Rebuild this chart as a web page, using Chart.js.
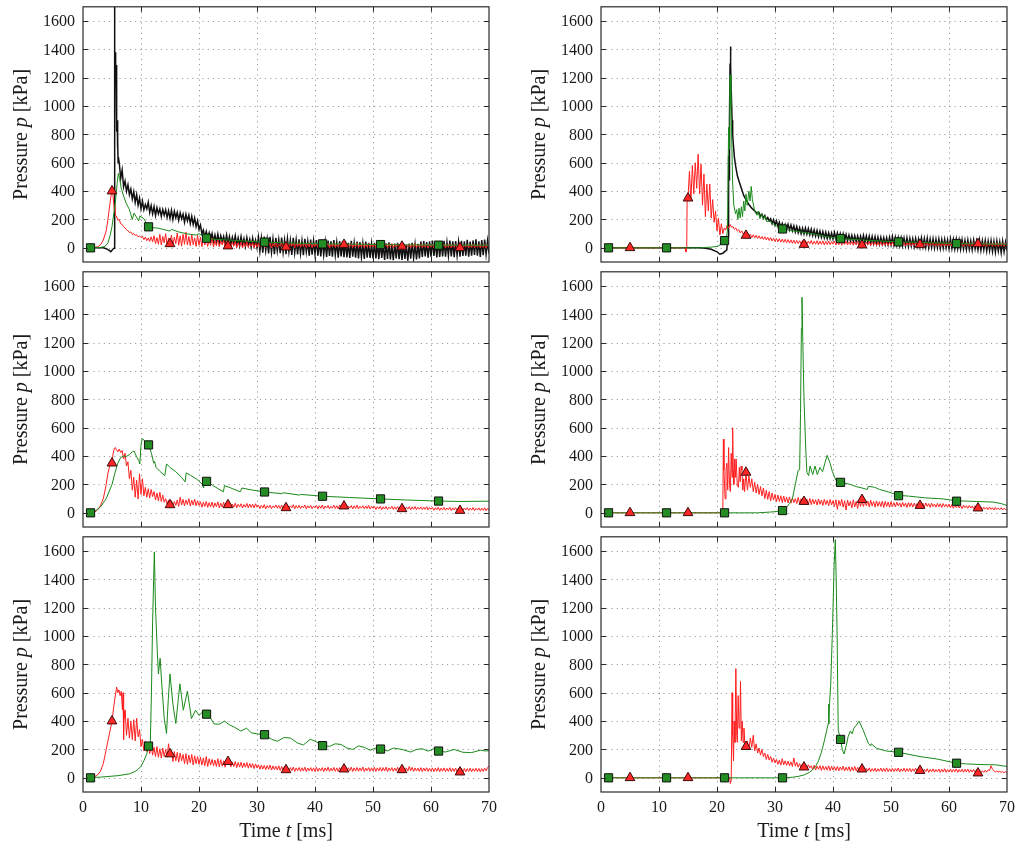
<!DOCTYPE html>
<html>
<head>
<meta charset="utf-8">
<title>Pressure histories</title>
<script src="https://cdn.jsdelivr.net/npm/chart.js@4.4.1/dist/chart.umd.min.js"></script>
<style>
  body { margin: 0; background: #fff; }
  #wrap { position: relative; width: 1020px; height: 850px; overflow: hidden; }
  canvas { position: absolute; }
</style>
</head>
<body>
<div id="wrap"></div>
<script>
// axes
const xTicks = [0, 10, 20, 30, 40, 50, 60, 70];
const yTicks = [0, 200, 400, 600, 800, 1000, 1200, 1400, 1600];

// marker times (squares on the green trace, triangles on the red trace)
const sqTimes = [1.3, 11.3, 21.3, 31.3, 41.3, 51.3, 61.3];
const triTimes = [5, 15, 25, 35, 45, 55, 65];

// ---- top left ----
const tlBlackHead = [[1,0],[3.5,0],[4,-6],[4.5,-18],[4.8,-27],[5.1,-12],[5.35,-3],[5.42,1800],[5.5,1330],[5.55,1250],[5.6,1380],[5.65,1150],[5.7,1290],[5.75,980],[5.8,1100],[5.85,820],[5.9,900],[5.95,700],[6.0,760],[6.05,600],[6.1,640]];
// sampled every 0.25 ms from 6.25 ms
const tlBlackNoise = [600,490,550,430, 470,400,445,375,
  415,345,395,320,375,300,350,275, 330,268,305,275,322,250,298,240,
  290,228,282,240,275,222,270,230,268,215,262,208,
  265,200,258,212,250,195,246,205,238,180,236,190,
  230,170,222,165,210,150, 190,130,160,100,125,75, 115,70,105,55,
  100,45,90,40,95,35,85,45,80,30,90,28,
  80,25,75,30,85,20,70,15,78,22,65,10,72,18,60,5,68,12,55,0,
  75,-25,68,-35,80,-20,60,-40,78,-30,62,-45,70,-22,58,-38,72,-32,55,-45,
  65,-28,52,-50,70,-35,55,-46,60,-40,50,-52,64,-30,45,-55,58,-48,50,-44,
  55,-55,48,-60,58,-50,42,-65,52,-58,45,-62,55,-52,38,-70,48,-60,42,-66,
  46,-68,35,-72,50,-62,34,-70,44,-75,40,-66,30,-78,45,-70,36,-72,28,-75,
  35,-75,30,-80,40,-72,25,-85,32,-78,38,-82,22,-88,30,-75,35,-80,26,-85,
  32,-78,20,-90,30,-76,36,-72,24,-82,28,-74,
  45,-65,48,-60,40,-70,46,-62,52,-58,40,-68,48,-64,44,-60,50,-62,38,-56,
  52,-60,45,-66,48,-55,42,-62,
  50,-58,46,-55,56,-62,44,-56,52,-50,60,-56,46,-64,54,-52,58,-46,50,-40];
const tlRedHead = [[1,0],[2,3],[2.5,8],[3,20],[3.5,55],[4,120],[4.3,200],[4.6,300],[4.9,385],[5.1,410],[5.25,330],[5.4,262],[5.5,290],[5.6,230]];
// sampled every 0.25 ms from 5.75 ms
const tlRedNoise = [225,195,200,170,165,150,140,128,
  120,108,112,95,100,88,92,78,84,72, 82,58,76,50,70,45,78,42,
  85,30,72,25,95,20,80,35,100,15,70,28, 90,20,75,30,105,18,85,12,95,25,110,20,
  80,15,95,22,70,10,88,18,75,8,65,20, 60,10,55,18,70,5,50,15,62,8,48,20,55,2,45,12,
  42,5,38,12,45,0,35,10,40,-2,36,8,44,3,32,10,38,0,34,6,
  35,5,30,10,38,2,28,12,33,0,30,8,36,4,26,10,34,-2,30,6,
  35,5,28,12,32,0,30,8,37,3,25,10,33,2,29,7,36,0,27,9,
  30,2,28,8,34,0,26,10,32,-3,28,6,33,2,25,8,30,0,27,5,
  32,3,26,9,30,-1,28,6,34,2,24,8,31,0,27,5,30,3,25,7,
  28,0,25,6,30,-2,24,8,29,0,26,5,31,1,22,7,28,-1,25,4,
  29,2,23,8,27,-2,26,5,30,0,22,6,28,1,24,4,27,-1,23,6,
  26,-2,22,5,28,-4,21,6,25,-1,23,3,27,0,20,5,24,-3,22,2,
  26,0,19,6,24,-2,23,3,27,-1,20,4,25,0,21,3,24,-2,22,5];
const tlGreen = [[1,0],[3,2],[3.8,10],[4.3,35],[4.7,90],[5,150],[5.3,240],[5.6,330],[5.9,460],[6.1,525],[6.3,490],[6.6,420],[7,365],[7.5,310],[8,270],[8.5,200],[8.8,245],[9.6,190],[9.8,225],[10.5,205],[11.3,148],[12,143],[13,138],[14,128],[15,118],[15.3,130],[16.5,112],[18,98],[19.5,90],[20,100],[21.3,68],[22,62],[25,55],[28,48],[31.3,40],[35,35],[41.3,28],[46,26],[51.3,23],[56,21],[61.3,19],[66,19],[70,18]];
const tlSq = [0, 148, 68, 40, 28, 23, 19];
const tlTri = [400, 28, 12, 5, 23, 10, 0];

// ---- top right ----
const trBlackHead = [[1,0],[17,0],[18,-3],[19,-10],[20,-28],[20.5,-45],[21,-38],[21.5,-22],[21.7,-15],[21.8,60],[21.95,80],[22,650],[22.1,480],[22.15,900],[22.25,1300],[22.3,1420],[22.35,1200],[22.4,1280],[22.5,1050],[22.6,900],[22.7,800],[22.8,740],[23,640],[23.2,580],[23.5,510],[23.8,470],[24.2,420],[24.6,370],[25,340],[25.5,305],[26,280],[26.5,260],[27,240]];
// sampled every 0.25 ms from 27.25 ms
const trBlackNoise = [248,222,236,210,228,198,214,190,
  205,170,198,160,190,152,180,142,172,135,165,130,
  166,126,160,120,155,112,150,106,142,100,138,98,
  140,96,135,92,132,86,126,82,122,78,118,74,114,70,110,66,106,64,104,62,
  108,62,104,60,100,56,98,52,94,50,90,48,88,44,86,42,84,40,82,40,
  88,38,84,36,82,32,80,30,78,28,76,26,74,28,72,24,70,22,74,24,
  78,20,74,18,72,16,70,14,68,12,70,10,66,12,64,8,66,10,62,6,
  70,8,66,4,68,0,62,2,64,-2,60,0,62,-4,58,-2,60,0,56,-6,
  62,-4,58,-8,60,-6,55,-10,58,-8,52,-12,56,-10,50,-14,54,-8,48,-15,
  55,-18,50,-15,52,-22,48,-20,50,-25,45,-30,48,-22,42,-35,46,-28,40,-20];
const trRedHead = [[1,0],[14.5,0],[14.65,-30],[14.78,0],[14.85,350]];
// sampled every 0.25 ms from 15 ms
const trRedNoise = [350,540,330,580,380, 600,420,660,380,590, 300,520,220,450,
  260,450,210,340, 180,260,120,210, 90,170,100,140, 125,160,138,165,145,
  150,130,140,118,128,105,120,98,110,88,
  100,78,96,72,92,70,88,66,85,62,80,60,78,56,74,52,72,48,68,46,
  66,42,64,40,62,38,60,36,58,34,56,32,55,30,52,30,50,28,52,28,
  50,26,48,28,52,24,46,26,50,22,47,25,49,20,45,24,48,22,44,26,
  47,20,45,22,48,18,44,24,46,20,42,22,45,18,43,20,44,16,42,20,
  42,18,40,20,44,16,38,22,42,15,40,18,43,14,37,20,41,16,39,18,
  42,14,36,20,40,15,38,18,41,13,37,19,40,14,36,16,39,12,37,18,
  38,14,36,16,40,12,35,18,38,12,36,15,39,10,34,16,37,12,35,14,
  38,10,34,16,37,11,35,13,38,9,33,15,36,11,34,13,37,8,32,14,
  35,10,33,12,36,8,31,14,34,10,33,11,35,7,30,13,33,9,31,12];
const trGreen = [[1,0],[17,0],[19,5],[20,10],[21,30],[21.3,51],[21.6,70],[21.8,120],[22,850],[22.1,700],[22.2,1180],[22.3,1220],[22.4,1000],[22.55,750],[22.7,450],[22.9,300],[23.2,240],[23.4,270],[23.6,200],[23.8,280],[24,210],[24.2,290],[24.4,220],[24.6,330],[24.8,260],[25,380],[25.2,300],[25.5,400],[25.7,330],[25.9,433],[26.1,340],[26.4,280],[26.6,250],[26.9,230],[27.1,260],[27.4,205],[27.7,240],[28,200],[28.3,225],[28.6,185],[29,190],[29.5,175],[30,160],[31.3,133],[33,120],[35,108],[37,95],[39,78],[41.3,65],[45,55],[51.3,42],[55,38],[61.3,30],[65,28],[70,25]];
const trSq = [0, 0, 51, 133, 65, 42, 30];
const trTri = [0, 350, 87, 23, 19, 23, 28];

// ---- middle left ----
const mlRedHead = [[1,0],[2,5],[2.5,20],[3,50],[3.5,100],[4,200],[4.3,280],[4.6,330],[5,350],[5.2,420],[5.4,455],[5.6,460]];
// sampled every 0.25 ms from 5.75 ms
const mlRedNoise = [445,430,450,425, 440,380,420,330, 360,240,300,160, 250,110,230,98, 275,130,240,120,
  180,110,170,105,165,115, 150,90,140,85,145,80,125,75, 100,62,90,55,
  85,48,80,52,90,45,110,55, 95,50,90,58,100,48,88,55,96,50,85,52,
  78,40,75,45,80,38,72,42,76,36,70,44,78,35,68,40,74,38,70,42,
  65,38,62,40,68,35,60,42,64,34,58,40,66,36,62,38,60,35,64,40,
  55,30,52,34,58,28,50,35,54,30,48,36,56,32,52,30,55,28,50,34,
  54,31,49,35,57,29,51,33,53,30,48,36,55,28,50,34,52,30,47,35,
  52,28,50,32,55,27,48,34,52,28,46,33,54,30,50,28,56,26,48,32,
  53,29,47,34,51,27,49,31,54,28,46,33,50,29,48,30,52,27,46,32,
  45,24,43,28,46,22,42,27,44,23,40,28,46,24,42,25,44,22,41,27,
  45,23,40,26,43,21,42,25,44,22,39,26,42,23,40,24,43,21,38,25,
  38,18,36,22,40,17,35,21,38,18,34,22,39,16,35,20,37,18,33,21,
  38,16,34,20,36,17,33,19,37,15,32,20,35,16,33,18,36,15,32,19];
const mlGreen = [[1,0],[2,10],[3,40],[4,100],[5,200],[5.5,280],[6,350],[6.5,390],[7,400],[7.5,398],[8,410],[8.5,430],[8.8,435],[9.2,400],[9.6,370],[9.8,345],[10.0,480],[10.2,523],[10.6,510],[11.3,479],[11.8,420],[12.2,350],[12.35,362],[12.6,320],[13.2,295],[14.1,262],[14.4,345],[15,320],[16,290],[17,250],[17.6,218],[17.8,282],[18.5,265],[19.6,238],[20.6,200],[20.8,175],[21.0,235],[21.3,222],[22.5,190],[24.2,148],[24.4,192],[25.5,175],[27.1,148],[27.4,175],[29,162],[31.3,147],[34.3,135],[34.5,142],[37.3,125],[37.5,130],[41.3,117],[46,108],[51.3,98],[56,90],[61.3,83],[65,80],[70,82]];
const mlSq = [0, 479, 222, 147, 117, 98, 83];
const mlTri = [350, 56, 56, 35, 47, 28, 16];

// ---- middle right ----
const mrRedHead = [[1,0],[21,0],[21.1,520],[21.2,300],[21.4,98],[21.55,300],[21.7,350],[21.85,160],[22.0,460],[22.15,200],[22.3,150],[22.45,420],[22.6,250],[22.7,600],[22.8,300],[22.9,200],[23.05,380],[23.2,250],[23.3,380],[23.5,190],[23.7,180],[23.85,320],[24.0,220],[24.15,330],[24.3,300],[24.45,160],[24.6,240],[24.75,150]];
// sampled every 0.25 ms from 25 ms
const mrRedNoise = [285,160,260,180,240, 150,215,140,200, 130,185,120,175, 100,160,95,150, 85,140,90,130,
  78,125,80,120,72,118,76,110, 70,112,68,105,72,100,66,108, 65,100,62,98,70,95,60,102,
  58,96,62,92,55,98,60,90,52,95,58,88,50,94,56,86,
  45,92,25,88,50,95,40,85,20,90,48,82,35,92,42,80,30,88,45,84,
  45,85,50,82,42,88,48,80,40,84,46,78,44,82,38,80,45,76,40,78,
  45,72,42,75,48,70,40,74,46,68,38,72,44,70,40,68,45,66,42,70,
  42,68,40,70,45,65,38,68,44,62,40,66,42,64,38,65,43,60,40,62,
  35,58,32,55,38,56,34,52,30,54,36,50,32,52,34,48,30,50,32,46,
  25,42,22,40,26,38,22,40,24,36,20,38,23,34,22,36,20,32,24,22];
const mrGreen = [[1,0],[27,0],[29,5],[30,8],[31.3,16],[32,40],[32.5,65],[33,100],[33.5,200],[34,300],[34.25,305],[34.4,700],[34.55,1300],[34.65,1520],[34.8,1200],[35.0,800],[35.3,450],[35.5,285],[35.8,262],[36.05,330],[36.5,270],[36.9,330],[37.3,270],[37.75,320],[38.2,290],[38.6,350],[39.0,405],[39.5,350],[39.9,290],[40.5,230],[41.3,215],[42,210],[43,200],[44,185],[45,175],[45.9,165],[46.1,187],[47.2,180],[48,165],[49.5,148],[51.3,123],[53,118],[56,105],[59,98],[61.3,85],[64.7,80],[67.6,76],[69,65],[70,52]];
const mrSq = [0, 0, 0, 16, 215, 121, 82];
const mrTri = [0, 0, 285, 79, 93, 51, 33];

// ---- bottom left ----
const blRedHead = [[1,0],[2,8],[2.5,20],[3,45],[3.5,100],[4,200],[4.5,300],[5,400],[5.3,500],[5.5,560],[5.8,640],[6.0,600],[6.2,620],[6.4,580],[6.6,610],[6.8,480],[6.9,600],[7.0,270],[7.1,470],[7.2,420]];
// sampled every 0.25 ms from 7.25 ms
const blRedNoise = [480,300,420,280, 400,270,410,260, 420,290,340,220, 270,190,260,185, 240,170,230,160,
  215,150,220,145,205,140,210,150, 200,145,240,150, 190,115,185,120,180,110,175,120,
  165,100,170,95,160,105,165,90,155,100,150,95, 145,90,140,85,150,80,135,90,
  130,85,125,80,135,78,128,82,120,75,125,100,
  112,78,110,80,115,72,108,76,110,70,105,75,108,68,102,72,100,65,98,70,
  92,60,90,62,88,58,86,60,90,55,84,58,82,55,85,52,80,55,78,56,
  74,48,72,50,76,45,70,50,73,46,71,48,75,44,69,50,72,47,70,45,
  74,46,68,50,72,44,70,48,75,45,68,49,73,46,70,44,72,48,69,62,
  74,46,71,50,75,45,70,48,73,46,70,49,76,44,69,50,72,46,71,48,
  74,45,70,49,73,46,72,48,75,44,70,50,72,46,69,48,74,45,70,56,
  72,46,70,48,80,50,74,45,70,48,68,46,72,44,69,48,71,45,67,47,
  70,44,68,46,72,43,67,47,70,44,66,46,71,43,67,45,69,42,66,40,
  64,44,66,42,65,45,68,43,64,46,67,44,66,42,65,45,68,50,72,85];
const blGreen = [[1,0],[3,5],[6,15],[8,28],[9,45],[9.5,60],[10,82],[10.5,120],[11,170],[11.3,224],[11.6,232],[11.8,600],[12.0,1100],[12.3,1593],[12.5,1200],[12.8,900],[13.0,733],[13.3,843],[13.6,650],[14.0,420],[14.4,313],[14.7,550],[15.0,733],[15.5,520],[16.0,383],[16.7,663],[17.3,477],[18.0,612],[18.7,418],[19.4,477],[20.0,440],[20.6,464],[21.3,449],[22,420],[22.6,380],[23.5,378],[24.4,400],[25.2,375],[26.2,355],[27.2,330],[28.2,350],[29,318],[30,310],[31.3,304],[32.5,272],[33.5,258],[34.7,285],[35.8,280],[37,245],[38,232],[39.2,272],[40.2,255],[41.3,227],[42.5,222],[43.5,240],[44.5,235],[45.5,210],[46.5,200],[47.5,225],[48.5,215],[49.5,195],[50.5,210],[51.3,203],[52.5,190],[53.5,210],[55,200],[56.5,182],[57.5,200],[58.5,205],[59.5,188],[60.5,205],[61.3,189],[62.5,182],[64,200],[65.5,180],[67,178],[68.5,195],[69.3,190],[70,190]];
const blSq = [0, 224, 449, 304, 227, 203, 189];
const blTri = [400, 168, 114, 56, 61, 56, 40];

// ---- bottom right ----
const brRedHead = [[1,0],[22.2,0],[22.3,-40],[22.45,-20],[22.6,600],[22.7,300],[22.85,120],[22.95,400],[23.1,250],[23.25,770],[23.4,300],[23.5,250],[23.65,580],[23.8,350],[23.95,420],[24.05,680],[24.2,260],[24.35,400],[24.5,250],[24.65,350],[24.8,240]];
// sampled every 0.25 ms from 25 ms
const brRedNoise = [220,260,200,280,215, 300,190,240,175, 210,160,200,150, 175,130,165,125, 150,110,140,105,
  130,95,125,90,135,92,120,88, 118,85,112,80,140,82,110,75, 100,70,98,72,95,66,92,70,
  85,58,88,55,82,60,86,52,84,56,80,54,85,50,82,55,
  78,52,80,50,76,54,82,48,75,52,78,46,76,50,80,48,74,52,76,50,
  68,45,66,48,70,44,65,46,68,42,64,47,69,44,66,45,70,43,64,46,
  67,44,65,47,69,42,63,46,68,44,65,45,67,42,64,46,68,43,63,45,
  62,40,60,44,64,38,59,42,63,40,58,43,62,38,60,42,64,39,58,41,
  62,40,59,43,63,38,58,41,61,39,60,42,62,38,57,40,60,39,56,38,
  52,36,50,38,54,40,56,52,85,60,50,42,48,40,46,38,44,36,42,38];
const brGreen = [[1,0],[31.3,0],[33,4],[34,10],[35,20],[36,40],[36.5,58],[37,80],[37.5,120],[38,180],[38.5,260],[39,350],[39.2,383],[39.25,520],[39.3,380],[39.4,523],[39.6,652],[39.9,1037],[40.2,1504],[40.4,1680],[40.55,1400],[40.7,1037],[40.9,336],[41.3,271],[41.6,200],[41.9,168],[42.3,230],[42.6,290],[43.0,330],[43.3,310],[43.6,350],[44.0,370],[44.5,400],[45.2,336],[46.1,243],[46.5,225],[46.6,240],[47.5,208],[49.2,189],[51.3,180],[55,150],[58,132],[61.3,103],[63,98],[66,93],[68,92],[70,80]];
const brSq = [0, 0, 0, 0, 271, 180, 103];
const brTri = [0, 0, 220, 75, 61, 51, 33];

// ---------------------------------------------------------------
const serif = "'Liberation Serif', 'DejaVu Serif', serif";
const RED = '#ff1f1f';
const GREEN = '#1b8a1b';
const BLACK = '#111111';

function pairs(list) {
    return list.map(function (p) { return {x: p[0], y: p[1]}; });
}
function sampled(t0, dt, vals) {
    return vals.map(function (v, i) { return {x: Math.round((t0 + i * dt) * 1000) / 1000, y: v}; });
}
function marks(times, vals) {
    return times.map(function (t, i) { return {x: t, y: vals[i]}; });
}

// draws "Pressure p [kPa]" style labels with an italic symbol
function drawMixed(ctx, parts, size) {
    var w = 0;
    parts.forEach(function (p) {
        ctx.font = (p[1] ? 'italic ' : '') + size + 'px ' + serif;
        w += ctx.measureText(p[0]).width;
    });
    var x = -w / 2;
    parts.forEach(function (p) {
        ctx.font = (p[1] ? 'italic ' : '') + size + 'px ' + serif;
        ctx.fillText(p[0], x, 0);
        x += ctx.measureText(p[0]).width;
    });
}

// dotted grid, box frame with inward ticks, tick labels, axis titles
const framePlugin = {
    id: 'frame',
    beforeDatasetsDraw(chart) {
        const ctx = chart.ctx, a = chart.chartArea, sx = chart.scales.x, sy = chart.scales.y;
        ctx.save();
        ctx.strokeStyle = '#9c9c9c';
        ctx.lineWidth = 1;
        ctx.setLineDash([1.2, 4]);
        xTicks.forEach(function (v) {
            if (v <= sx.min || v >= sx.max) return;
            const px = Math.round(sx.getPixelForValue(v)) + 0.5;
            ctx.beginPath(); ctx.moveTo(px, a.top); ctx.lineTo(px, a.bottom); ctx.stroke();
        });
        yTicks.forEach(function (v) {
            const py = Math.round(sy.getPixelForValue(v)) + 0.5;
            ctx.beginPath(); ctx.moveTo(a.left, py); ctx.lineTo(a.right, py); ctx.stroke();
        });
        ctx.restore();
    },
    afterDatasetsDraw(chart) {
        const ctx = chart.ctx, a = chart.chartArea, sx = chart.scales.x, sy = chart.scales.y;
        const tl = 5;
        ctx.save();
        ctx.strokeStyle = '#2a2a2a';
        ctx.lineWidth = 1.2;
        ctx.strokeRect(a.left, a.top, a.right - a.left, a.bottom - a.top);
        ctx.lineWidth = 1;
        ctx.beginPath();
        xTicks.forEach(function (v) {
            if (v <= sx.min || v >= sx.max) return;
            const px = Math.round(sx.getPixelForValue(v)) + 0.5;
            ctx.moveTo(px, a.bottom); ctx.lineTo(px, a.bottom - tl);
            ctx.moveTo(px, a.top); ctx.lineTo(px, a.top + tl);
        });
        yTicks.forEach(function (v) {
            const py = Math.round(sy.getPixelForValue(v)) + 0.5;
            ctx.moveTo(a.left, py); ctx.lineTo(a.left + tl, py);
            ctx.moveTo(a.right, py); ctx.lineTo(a.right - tl, py);
        });
        ctx.stroke();
        ctx.restore();
    },
    afterDraw(chart, args, opts) {
        const ctx = chart.ctx, a = chart.chartArea, sx = chart.scales.x, sy = chart.scales.y;
        ctx.save();
        ctx.fillStyle = '#1a1a1a';
        ctx.font = '16px ' + serif;
        ctx.textBaseline = 'middle';
        ctx.textAlign = 'right';
        yTicks.forEach(function (v) {
            ctx.fillText(String(v), a.left - 8, sy.getPixelForValue(v) + 1);
        });
        if (opts.xTitleY) {
            ctx.textAlign = 'center';
            xTicks.forEach(function (v) {
                ctx.fillText(String(v), sx.getPixelForValue(v), a.bottom + 16);
            });
        }
        ctx.textAlign = 'left';
        ctx.save();
        ctx.translate(opts.yTitleX, (a.top + a.bottom) / 2);
        ctx.rotate(-Math.PI / 2);
        drawMixed(ctx, [['Pressure ', false], ['p', true], [' [kPa]', false]], 20);
        ctx.restore();
        if (opts.xTitleY) {
            ctx.translate((a.left + a.right) / 2, opts.xTitleY);
            drawMixed(ctx, [['Time ', false], ['t', true], [' [ms]', false]], 20);
        }
        ctx.restore();
    }
};

const panels = [
    {col: 0, row: 0, black: pairs(tlBlackHead).concat(sampled(6.25, 0.25, tlBlackNoise)),
     red: pairs(tlRedHead).concat(sampled(5.75, 0.25, tlRedNoise)), green: pairs(tlGreen), sq: tlSq, tri: tlTri},
    {col: 1, row: 0, black: pairs(trBlackHead).concat(sampled(27.25, 0.25, trBlackNoise)),
     red: pairs(trRedHead).concat(sampled(15, 0.25, trRedNoise)), green: pairs(trGreen), sq: trSq, tri: trTri},
    {col: 0, row: 1, red: pairs(mlRedHead).concat(sampled(5.75, 0.25, mlRedNoise)), green: pairs(mlGreen), sq: mlSq, tri: mlTri},
    {col: 1, row: 1, red: pairs(mrRedHead).concat(sampled(25, 0.25, mrRedNoise)), green: pairs(mrGreen), sq: mrSq, tri: mrTri},
    {col: 0, row: 2, red: pairs(blRedHead).concat(sampled(7.25, 0.25, blRedNoise)), green: pairs(blGreen), sq: blSq, tri: blTri},
    {col: 1, row: 2, red: pairs(brRedHead).concat(sampled(25, 0.25, brRedNoise)), green: pairs(brGreen), sq: brSq, tri: brTri}
];

// canvas geometry per column / row
const cols = [{left: 0, width: 500, yW: 83, padR: 11, titleX: 22},
              {left: 510, width: 510, yW: 91, padR: 13, titleX: 30}];
const rows = [{top: 0, height: 270, padT: 4, xH: 8},
              {top: 265, height: 270, padT: 4, xH: 8},
              {top: 530, height: 320, padT: 5, xH: 58}];

function lineSet(data, color, width) {
    return {data: data, borderColor: color, borderWidth: width, pointRadius: 0,
            fill: false, tension: 0, spanGaps: true};
}

const wrap = document.getElementById('wrap');
panels.forEach(function (p) {
    const c = cols[p.col], r = rows[p.row];
    const bottom = p.row === 2;
    const cv = document.createElement('canvas');
    cv.width = c.width; cv.height = r.height;
    cv.style.left = c.left + 'px'; cv.style.top = r.top + 'px';
    cv.style.width = c.width + 'px'; cv.style.height = r.height + 'px';
    wrap.appendChild(cv);

    const datasets = [
        {data: marks(sqTimes, p.sq), showLine: false, pointStyle: 'rect', pointRadius: 5.8,
         backgroundColor: '#238c23', borderColor: '#111', borderWidth: 1},
        {data: marks(triTimes, p.tri), showLine: false, pointStyle: 'triangle', pointRadius: 5.6,
         backgroundColor: '#ff2626', borderColor: '#3a0a0a', borderWidth: 1},
        lineSet(p.green, GREEN, 1),
        lineSet(p.red, RED, 1)
    ];
    if (p.black) datasets.push(lineSet(p.black, BLACK, 1.5));

    new Chart(cv, {
        type: 'line',
        data: {datasets: datasets},
        options: {
            responsive: false,
            animation: false,
            devicePixelRatio: 1,
            layout: {padding: {top: r.padT, right: c.padR, left: 0, bottom: 0}},
            plugins: {
                legend: {display: false},
                tooltip: {enabled: false},
                frame: {yTitleX: c.titleX, xTitleY: bottom ? 302 : 0}
            },
            scales: {
                x: {
                    type: 'linear', min: 0, max: 70,
                    afterBuildTicks: function (s) { s.ticks = xTicks.map(function (v) { return {value: v}; }); },
                    afterFit: function (s) { s.height = r.xH; },
                    grid: {display: false, drawTicks: false},
                    border: {display: false},
                    ticks: {display: false}
                },
                y: {
                    type: 'linear', min: -100, max: 1700,
                    afterBuildTicks: function (s) { s.ticks = yTicks.map(function (v) { return {value: v}; }); },
                    afterFit: function (s) { s.width = c.yW; },
                    grid: {display: false, drawTicks: false},
                    border: {display: false},
                    ticks: {display: false}
                }
            }
        },
        plugins: [framePlugin]
    });
});
</script>
</body>
</html>
